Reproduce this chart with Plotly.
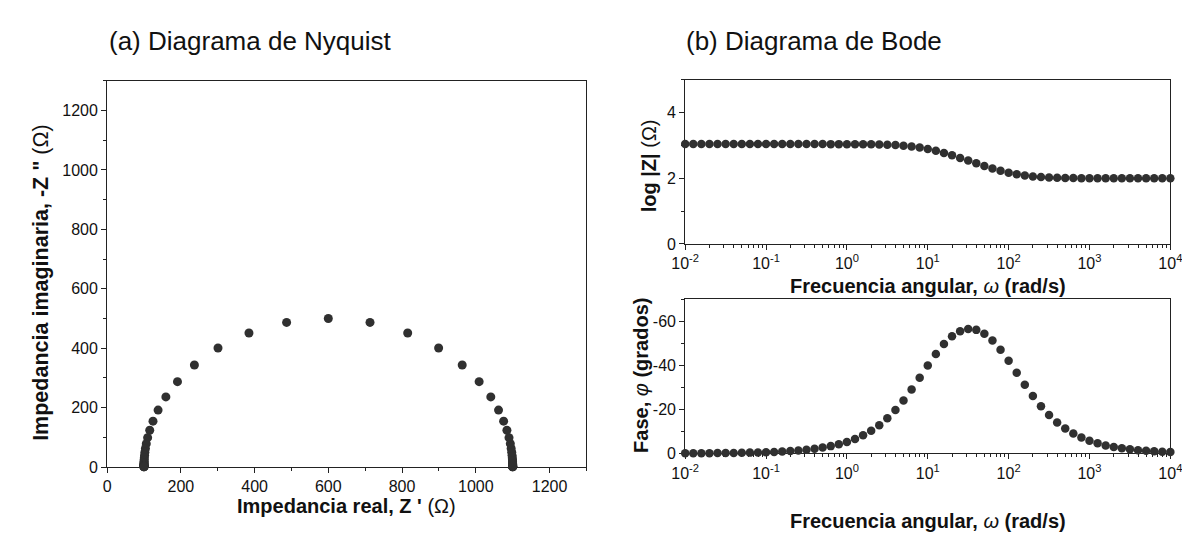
import plotly.graph_objects as go

W, H = 1190, 533

# angular frequency (rad/s), 10 points per decade
freq = [0.01, 0.01259, 0.01585, 0.01995, 0.02512, 0.03162, 0.03981, 0.05012, 0.0631, 0.07943,
        0.1, 0.1259, 0.1585, 0.1995, 0.2512, 0.3162, 0.3981, 0.5012, 0.631, 0.7943,
        1, 1.259, 1.585, 1.995, 2.512, 3.162, 3.981, 5.012, 6.31, 7.943,
        10, 12.59, 15.85, 19.95, 25.12, 31.62, 39.81, 50.12, 63.1, 79.43,
        100, 125.9, 158.5, 199.5, 251.2, 316.2, 398.1, 501.2, 631, 794.3,
        1000, 1259, 1585, 1995, 2512, 3162, 3981, 5012, 6310, 7943, 10000]

# Nyquist: real part Z' and -Z'' (ohm)
z_real = [1100.0, 1100.0, 1100.0, 1100.0, 1100.0, 1100.0, 1100.0, 1100.0, 1100.0, 1099.9,
          1099.9, 1099.8, 1099.7, 1099.6, 1099.4, 1099.0, 1098.4, 1097.5, 1096.0, 1093.7,
          1090.1, 1084.4, 1075.5, 1061.7, 1040.7, 1009.1, 963.2, 899.2, 815.3, 713.1,
          600.0, 486.9, 384.8, 300.8, 236.8, 190.9, 159.4, 138.3, 124.5, 115.6,
          109.9, 106.3, 104.0, 102.5, 101.6, 101.0, 100.6, 100.4, 100.3, 100.2,
          100.1, 100.1, 100.0, 100.0, 100.0, 100.0, 100.0, 100.0, 100.0, 100.0, 100.0]
z_imag_neg = [1.0, 1.3, 1.6, 2.0, 2.5, 3.2, 4.0, 5.0, 6.3, 7.9,
              10.0, 12.6, 15.8, 19.9, 25.1, 31.6, 39.7, 50.0, 62.8, 78.9,
              99.0, 123.9, 154.6, 191.9, 236.3, 287.5, 343.6, 400.6, 451.3, 487.0,
              500.0, 487.0, 451.3, 400.6, 343.6, 287.5, 236.3, 191.9, 154.6, 123.9,
              99.0, 78.9, 62.8, 50.0, 39.7, 31.6, 25.1, 19.9, 15.8, 12.6,
              10.0, 7.9, 6.3, 5.0, 4.0, 3.2, 2.5, 2.0, 1.6, 1.3, 1.0]

# Bode: log|Z| and phase (degrees)
log_z = [3.041, 3.041, 3.041, 3.041, 3.041, 3.041, 3.041, 3.041, 3.041, 3.041,
         3.041, 3.041, 3.041, 3.041, 3.041, 3.041, 3.041, 3.041, 3.040, 3.040,
         3.039, 3.038, 3.036, 3.033, 3.028, 3.021, 3.010, 2.993, 2.969, 2.936,
         2.893, 2.838, 2.773, 2.700, 2.621, 2.538, 2.455, 2.374, 2.298, 2.229,
         2.170, 2.122, 2.085, 2.057, 2.038, 2.025, 2.016, 2.010, 2.006, 2.004,
         2.003, 2.002, 2.001, 2.001, 2.000, 2.000, 2.000, 2.000, 2.000, 2.000, 2.000]
phase = [-0.05, -0.07, -0.08, -0.10, -0.13, -0.16, -0.21, -0.26, -0.33, -0.41,
         -0.52, -0.66, -0.83, -1.04, -1.31, -1.65, -2.07, -2.61, -3.28, -4.13,
         -5.19, -6.52, -8.18, -10.25, -12.79, -15.90, -19.64, -24.01, -28.97, -34.33,
         -39.81, -45.01, -49.55, -53.10, -55.43, -56.41, -56.00, -54.22, -51.16, -46.99,
         -42.02, -36.60, -31.15, -26.00, -21.37, -17.37, -14.01, -11.24, -8.98, -7.16,
         -5.70, -4.54, -3.61, -2.87, -2.28, -1.81, -1.44, -1.15, -0.91, -0.72, -0.57]

decades = [0.01, 0.1, 1, 10, 100, 1000, 10000]
decade_labels = ["10<sup>-2</sup>", "10<sup>-1</sup>", "10<sup>0</sup>", "10<sup>1</sup>",
                 "10<sup>2</sup>", "10<sup>3</sup>", "10<sup>4</sup>"]
phase_ticks = [0, -20, -40, -60]
phase_labels = ["0", "-20", "-40", "-60"]

FONT = "Liberation Sans, Arial, sans-serif"
INK = "#303030"


def px(x):
    return x / W


def py(y):
    return 1 - y / H


fig = go.Figure()

fig.add_trace(go.Scatter(x=z_real, y=z_imag_neg, mode="markers", cliponaxis=False,
                         marker=dict(size=9, color=INK), xaxis="x", yaxis="y"))
fig.add_trace(go.Scatter(x=freq, y=log_z, mode="markers", cliponaxis=False,
                         marker=dict(size=8.5, color=INK), xaxis="x2", yaxis="y2"))
fig.add_trace(go.Scatter(x=freq, y=phase, mode="markers", cliponaxis=False,
                         marker=dict(size=8.5, color=INK), xaxis="x3", yaxis="y3"))

axis_common = dict(showline=True, linecolor="#222", linewidth=1, mirror=True,
                   ticks="outside", ticklen=5, tickcolor="#222", showgrid=False,
                   zeroline=False, layer="below traces",
                   tickfont=dict(family=FONT, size=16, color="#111"))

left_x = (87, 577)
right_x = (678, 1174)

fig.update_layout(
    width=W, height=H, margin=dict(l=0, r=0, t=0, b=0),
    paper_bgcolor="white", plot_bgcolor="white", showlegend=False,
    xaxis=dict(domain=[px(left_x[0]), px(left_x[1])], range=[0, 1300], dtick=200,
               minor=dict(dtick=100, ticks="outside", ticklen=3, tickcolor="#222"),
               anchor="y", **axis_common),
    yaxis=dict(domain=[py(467), py(74)], range=[0, 1300], dtick=200,
               minor=dict(dtick=100, ticks="outside", ticklen=3, tickcolor="#222"),
               anchor="x", **axis_common),
    xaxis2=dict(domain=[px(right_x[0]), px(right_x[1])], type="log", range=[-2, 4],
                tickvals=decades, ticktext=decade_labels,
                minor=dict(dtick="D1", ticks="outside", ticklen=3, tickcolor="#222"),
                anchor="y2", **axis_common),
    yaxis2=dict(domain=[py(240), py(73)], range=[0, 5], dtick=2,
                minor=dict(dtick=1, ticks="outside", ticklen=3, tickcolor="#222"),
                anchor="x2", **axis_common),
    xaxis3=dict(domain=[px(right_x[0]), px(right_x[1])], type="log", range=[-2, 4],
                tickvals=decades, ticktext=decade_labels,
                minor=dict(dtick="D1", ticks="outside", ticklen=3, tickcolor="#222"),
                anchor="y3", **axis_common),
    yaxis3=dict(domain=[py(453), py(296)], range=[0, -70],
                tickvals=phase_ticks, ticktext=phase_labels,
                minor=dict(dtick=10, ticks="outside", ticklen=3, tickcolor="#222"),
                anchor="x3", **axis_common),
)

title_font = dict(family=FONT, size=26, color="#111")
label_font = dict(family=FONT, size=20, color="#111")

annotations = [
    dict(text="(a) Diagrama de Nyquist", x=px(87), y=py(34), xanchor="left",
         yanchor="middle", font=title_font),
    dict(text="(b) Diagrama de Bode", x=px(677), y=py(34), xanchor="left",
         yanchor="middle", font=title_font),
    dict(text="<b>Impedancia real, Z '</b> (Ω)", x=px(332), y=py(507),
         xanchor="center", yanchor="middle", font=label_font),
    dict(text="<b>Impedancia imaginaria, -Z \"</b> (Ω)", x=px(20), y=py(279),
         xanchor="center", yanchor="middle", textangle=-90,
         font=dict(family=FONT, size=21.5, color="#111")),
    dict(text="<b>Frecuencia angular, </b><i>ω</i><b> (rad/s)</b>", x=px(926), y=py(283),
         xanchor="center", yanchor="middle", font=label_font),
    dict(text="<b>log |Z|</b> (Ω)", x=px(641), y=py(160),
         xanchor="center", yanchor="middle", textangle=-90, font=label_font),
    dict(text="<b>Fase, </b><i>φ</i><b> (grados)</b>", x=px(632), y=py(374),
         xanchor="center", yanchor="middle", textangle=-90, font=label_font),
    dict(text="<b>Frecuencia angular, </b><i>ω</i><b> (rad/s)</b>", x=px(926), y=py(522),
         xanchor="center", yanchor="middle", font=label_font),
]
for a in annotations:
    a.update(xref="paper", yref="paper", showarrow=False)
fig.update_layout(annotations=annotations)

fig.write_html("out.html")
